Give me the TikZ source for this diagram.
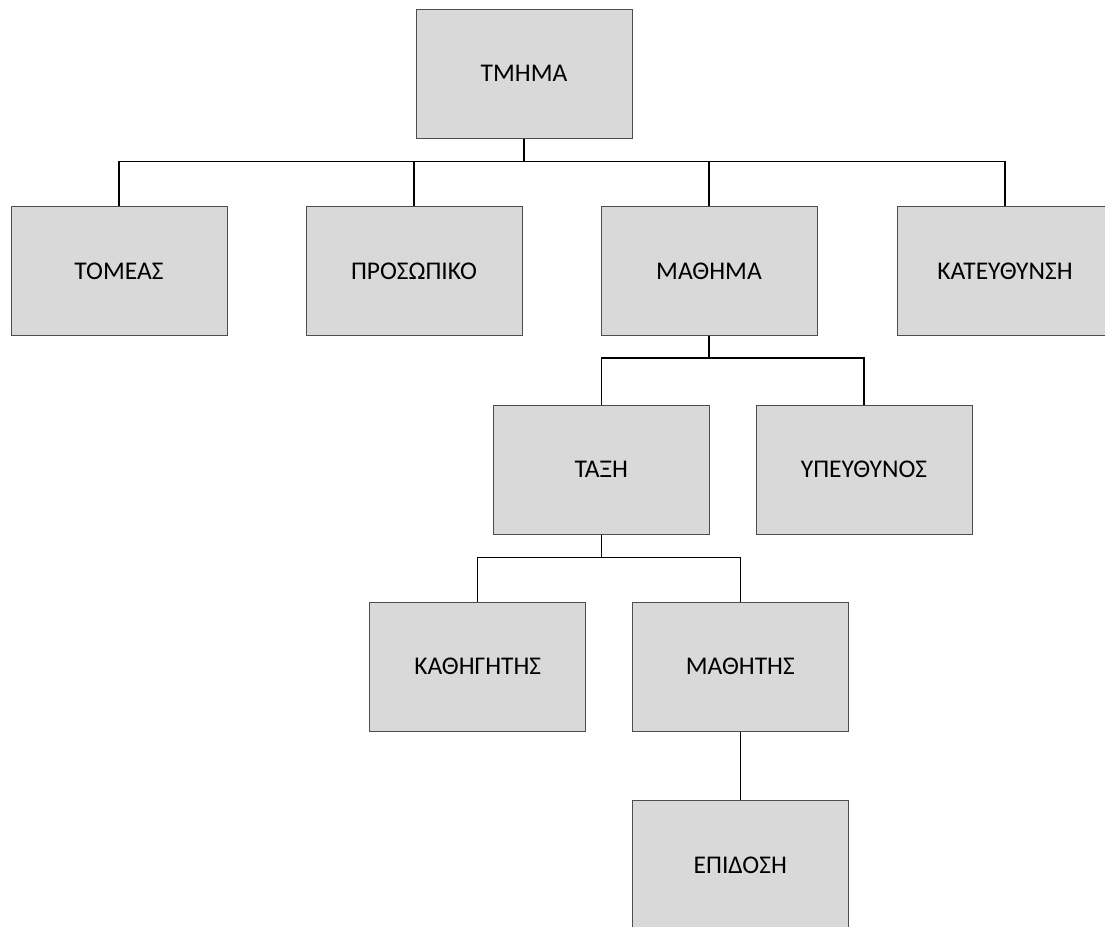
\documentclass[tikz,border=0pt]{standalone}
\usepackage{fontspec}
\setmainfont{Carlito}
\definecolor{boxfill}{HTML}{D9D9D9}
\definecolor{boxline}{HTML}{4D4D4D}
\begin{document}
\begin{tikzpicture}[x=1pt,y=-1pt,
  entity/.style={draw=boxline, fill=boxfill, line width=1pt, minimum width=216pt,
    minimum height=129pt, inner sep=0pt, font=\fontsize{25.5}{30}\selectfont},
  link/.style={draw=black, line width=1.5pt}]
\useasboundingbox (0,0) rectangle (1105,926);
\clip (0,0) rectangle (1105,926);
% entities
\node[entity] (tmima) at (524,73.5) {ΤΜΗΜΑ};
\node[entity] (tomeas) at (119,271.3) {ΤΟΜΕΑΣ};
\node[entity] (prosopiko) at (414,271.3) {ΠΡΟΣΩΠΙΚΟ};
\node[entity] (mathima) at (709,271.3) {ΜΑΘΗΜΑ};
\node[entity] (kateythynsi) at (1005,271.3) {ΚΑΤΕΥΘΥΝΣΗ};
\node[entity] (taxi) at (601.3,469.5) {ΤΑΞΗ};
\node[entity] (ypeythynos) at (864,469.5) {ΥΠΕΥΘΥΝΟΣ};
\node[entity] (kathigitis) at (477.7,666.7) {ΚΑΘΗΓΗΤΗΣ};
\node[entity] (mathitis) at (740.3,666.7) {ΜΑΘΗΤΗΣ};
\node[entity] (epidosi) at (740.3,865.2) {ΕΠΙΔΟΣΗ};
% bus levels
\coordinate (busA) at (0,161.7);
\coordinate (busB) at (0,358);
\coordinate (busC) at (0,557.7);
% connectors
\foreach \c in {tomeas,prosopiko,mathima,kateythynsi}
  \draw[link] (tmima.south) -- (tmima.south |- busA) -| (\c.north);
\foreach \c in {taxi,ypeythynos}
  \draw[link] (mathima.south) -- (mathima.south |- busB) -| (\c.north);
\foreach \c in {kathigitis,mathitis}
  \draw[link] (taxi.south) -- (taxi.south |- busC) -| (\c.north);
\draw[link] (mathitis.south) -- (epidosi.north);
\end{tikzpicture}
\end{document}
